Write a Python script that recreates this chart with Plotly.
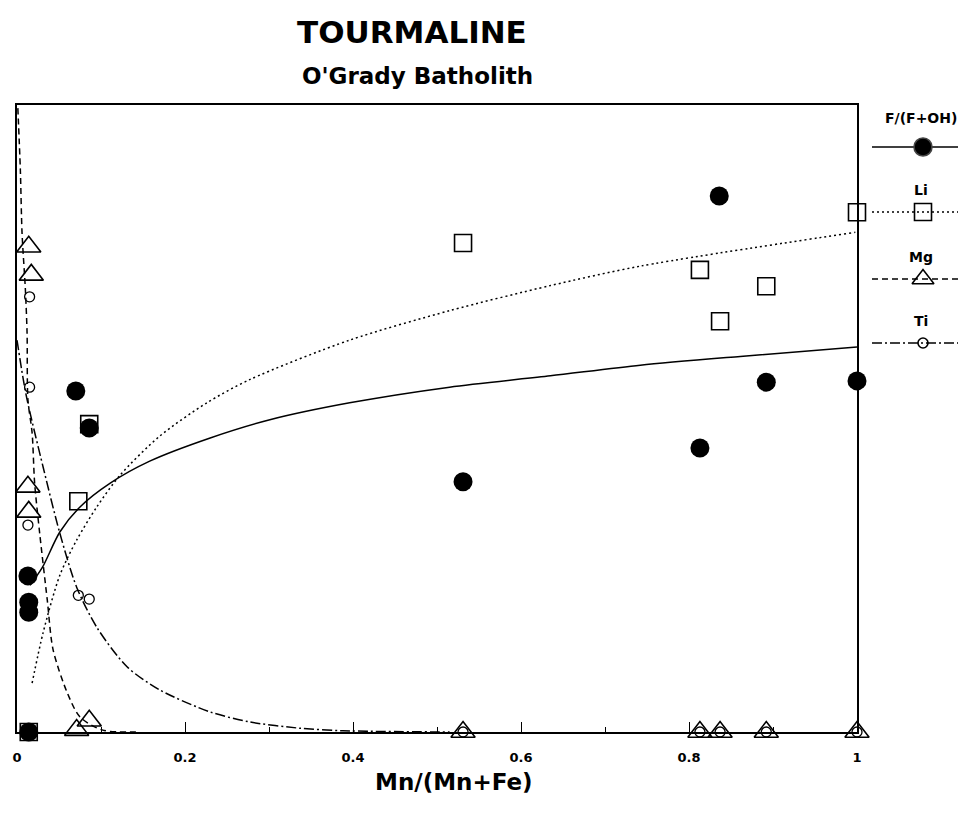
import plotly.graph_objects as go

# ---------------- data ----------------
# measured points, x = Mn/(Mn+Fe), y = relative value (0..1 of axis)
f_x = [0.836, 0.070, 0.086, 0.531, 0.813, 0.892, 1.000, 0.013, 0.014, 0.014, 0.014]
f_y = [0.855, 0.544, 0.485, 0.399, 0.453, 0.558, 0.560, 0.249, 0.207, 0.191, 0.000]

li_x = [1.000, 0.531, 0.813, 0.892, 0.837, 0.086, 0.073, 0.014]
li_y = [0.829, 0.780, 0.737, 0.711, 0.655, 0.491, 0.368, 0.000]

mg_x = [0.014, 0.017, 0.013, 0.014, 0.071, 0.086, 0.531, 0.813, 0.837, 0.892, 1.000]
mg_y = [0.774, 0.729, 0.391, 0.351, 0.003, 0.018, 0.000, 0.000, 0.000, 0.000, 0.000]

ti_x = [0.015, 0.015, 0.013, 0.073, 0.086, 0.531, 0.813, 0.837, 0.892, 1.000]
ti_y = [0.694, 0.550, 0.330, 0.218, 0.212, 0.000, 0.000, 0.000, 0.000, 0.000]

# fitted curves
f_fit_x = [0.0155, 0.030, 0.051, 0.075, 0.111, 0.158, 0.230, 0.301, 0.396, 0.515, 0.635, 0.742, 0.861, 1.000]
f_fit_y = [0.234, 0.262, 0.319, 0.359, 0.397, 0.432, 0.469, 0.498, 0.525, 0.550, 0.568, 0.585, 0.599, 0.614]

li_fit_x = [0.018, 0.031, 0.051, 0.071, 0.095, 0.123, 0.170, 0.226, 0.277, 0.396, 0.515, 0.635, 0.742, 0.998]
li_fit_y = [0.078, 0.158, 0.250, 0.306, 0.359, 0.410, 0.472, 0.525, 0.562, 0.625, 0.672, 0.712, 0.743, 0.797]

mg_fit_x = [0.001, 0.004, 0.006, 0.010, 0.012, 0.013, 0.018, 0.021, 0.027, 0.036, 0.043, 0.060, 0.075, 0.102, 0.146]
mg_fit_y = [0.995, 0.896, 0.796, 0.705, 0.636, 0.530, 0.477, 0.397, 0.317, 0.211, 0.131, 0.062, 0.024, 0.003, 0.000]

ti_fit_x = [0.000, 0.007, 0.012, 0.031, 0.051, 0.071, 0.095, 0.131, 0.170, 0.230, 0.277, 0.337, 0.388, 0.515]
ti_fit_y = [0.625, 0.566, 0.530, 0.423, 0.317, 0.231, 0.167, 0.104, 0.067, 0.032, 0.016, 0.006, 0.002, 0.000]

x_ticks = [0, 0.2, 0.4, 0.6, 0.8, 1]
x_tick_labels = ["0", "0.2", "0.4", "0.6", "0.8", "1"]
series_names = ["F/(F+OH)", "Li", "Mg", "Ti"]

# ---------------- layout / style ----------------
W, H = 966, 818
OFF = 8                      # default page (body) margin of the html page
# target page pixel positions of the plot frame
PL, PR, PT, PB = 17, 857, 105, 732
L = PL - OFF
T = PT - OFF
B = H - (PB - OFF)
R = 0
plot_w = W - L - R
plot_h = H - T - B
dom_main = [0, (PR - PL) / plot_w]
dom_leg = [(872 - PL) / plot_w, 1]

FONT = "DejaVu Sans, Liberation Sans, Arial, sans-serif"
BLACK = "black"

dash_f = "solid"
dash_li = "2px,3px"
dash_mg = "6px,4px"
dash_ti = "10px,3px,2px,3px"


def px_to_paper(px, py):
    """page pixel position -> paper coordinates"""
    return (px - PL) / plot_w, 1 + (PT - py) / plot_h


fig = go.Figure()

# fitted curves
for cx, cy, dsh in [(f_fit_x, f_fit_y, dash_f), (li_fit_x, li_fit_y, dash_li),
                    (mg_fit_x, mg_fit_y, dash_mg), (ti_fit_x, ti_fit_y, dash_ti)]:
    fig.add_trace(go.Scatter(x=cx, y=cy, mode="lines",
                             line=dict(color=BLACK, width=1.5, dash=dsh, shape="spline", smoothing=0.8),
                             showlegend=False, hoverinfo="skip"))

# markers
fig.add_trace(go.Scatter(x=mg_x, y=mg_y, mode="markers", cliponaxis=False,
                         marker=dict(symbol="triangle-up-open", size=21, color=BLACK, line=dict(width=1.6)),
                         name="Mg", showlegend=False))
fig.add_trace(go.Scatter(x=li_x, y=li_y, mode="markers", cliponaxis=False,
                         marker=dict(symbol="square-open", size=17, color=BLACK, line=dict(width=1.6)),
                         name="Li", showlegend=False))
fig.add_trace(go.Scatter(x=ti_x, y=ti_y, mode="markers", cliponaxis=False,
                         marker=dict(symbol="circle-open", size=10, color=BLACK, line=dict(width=1.3)),
                         name="Ti", showlegend=False))
fig.add_trace(go.Scatter(x=f_x, y=f_y, mode="markers", cliponaxis=False,
                         marker=dict(symbol="circle", size=19, color=BLACK),
                         name="F/(F+OH)", showlegend=False))

# custom legend drawn on a side axis (page-pixel-like y coordinates)
leg_rows = [
    # name, label y, sample y, dash, symbol, size
    (series_names[0], 118, 147, dash_f, "circle", 18),
    (series_names[1], 190, 212, dash_li, "square-open", 17),
    (series_names[2], 257, 279, dash_mg, "triangle-up-open", 19),
    (series_names[3], 321, 343, dash_ti, "circle-open", 10),
]
for name, ty, sy, dsh, sym, sz in leg_rows:
    fig.add_trace(go.Scatter(x=[0, 1], y=[sy, sy], mode="lines", xaxis="x2", yaxis="y2",
                             line=dict(color=BLACK, width=1.5, dash=dsh),
                             showlegend=False, hoverinfo="skip", cliponaxis=False))
    fig.add_trace(go.Scatter(x=[0.5], y=[sy], mode="markers", xaxis="x2", yaxis="y2",
                             marker=dict(symbol=sym, size=sz, color=BLACK, line=dict(width=1.6)),
                             showlegend=False, hoverinfo="skip", cliponaxis=False))
    fig.add_annotation(x=0.48, y=ty, xref="x2", yref="y2", text="<b>%s</b>" % name,
                       showarrow=False, font=dict(family=FONT, size=14, color=BLACK))

fig.update_layout(
    width=W, height=H,
    margin=dict(l=L, r=R, t=T, b=B, autoexpand=False),
    paper_bgcolor="white", plot_bgcolor="white",
    showlegend=False,
    xaxis=dict(domain=dom_main, range=[0, 1], showgrid=False, zeroline=False, automargin=False,
               showline=True, linecolor=BLACK, linewidth=1.5, mirror=True,
               tickmode="array", tickvals=x_ticks, ticktext=x_tick_labels,
               ticks="inside", ticklen=10, tickwidth=1.2, tickcolor=BLACK,
               ticklabelstandoff=13,
               minor=dict(ticks="inside", ticklen=5, tickwidth=1, tickcolor=BLACK, dtick=0.1),
               tickfont=dict(family=FONT, size=13, color=BLACK, weight="bold")),
    yaxis=dict(range=[0, 1], showgrid=False, zeroline=False, showticklabels=False, automargin=False,
               showline=True, linecolor=BLACK, linewidth=1.5, mirror=True, ticks=""),
    xaxis2=dict(domain=dom_leg, range=[0, 1], visible=False, anchor="y2"),
    yaxis2=dict(domain=[0, 1], range=[PB, PT], visible=False, anchor="x2"),
)

for text, (px, py), size in [("<b>TOURMALINE</b>", (412, 32), 31),
                             ("<b>O'Grady Batholith</b>", (417, 76), 23),
                             ("<b>Mn/(Mn+Fe)</b>", (454, 782), 23)]:
    ax_, ay_ = px_to_paper(px, py)
    fig.add_annotation(x=ax_, y=ay_, xref="paper", yref="paper", text=text,
                       xanchor="center", yanchor="middle",
                       showarrow=False, font=dict(family=FONT, size=size, color=BLACK))

fig.write_html("out.html")
